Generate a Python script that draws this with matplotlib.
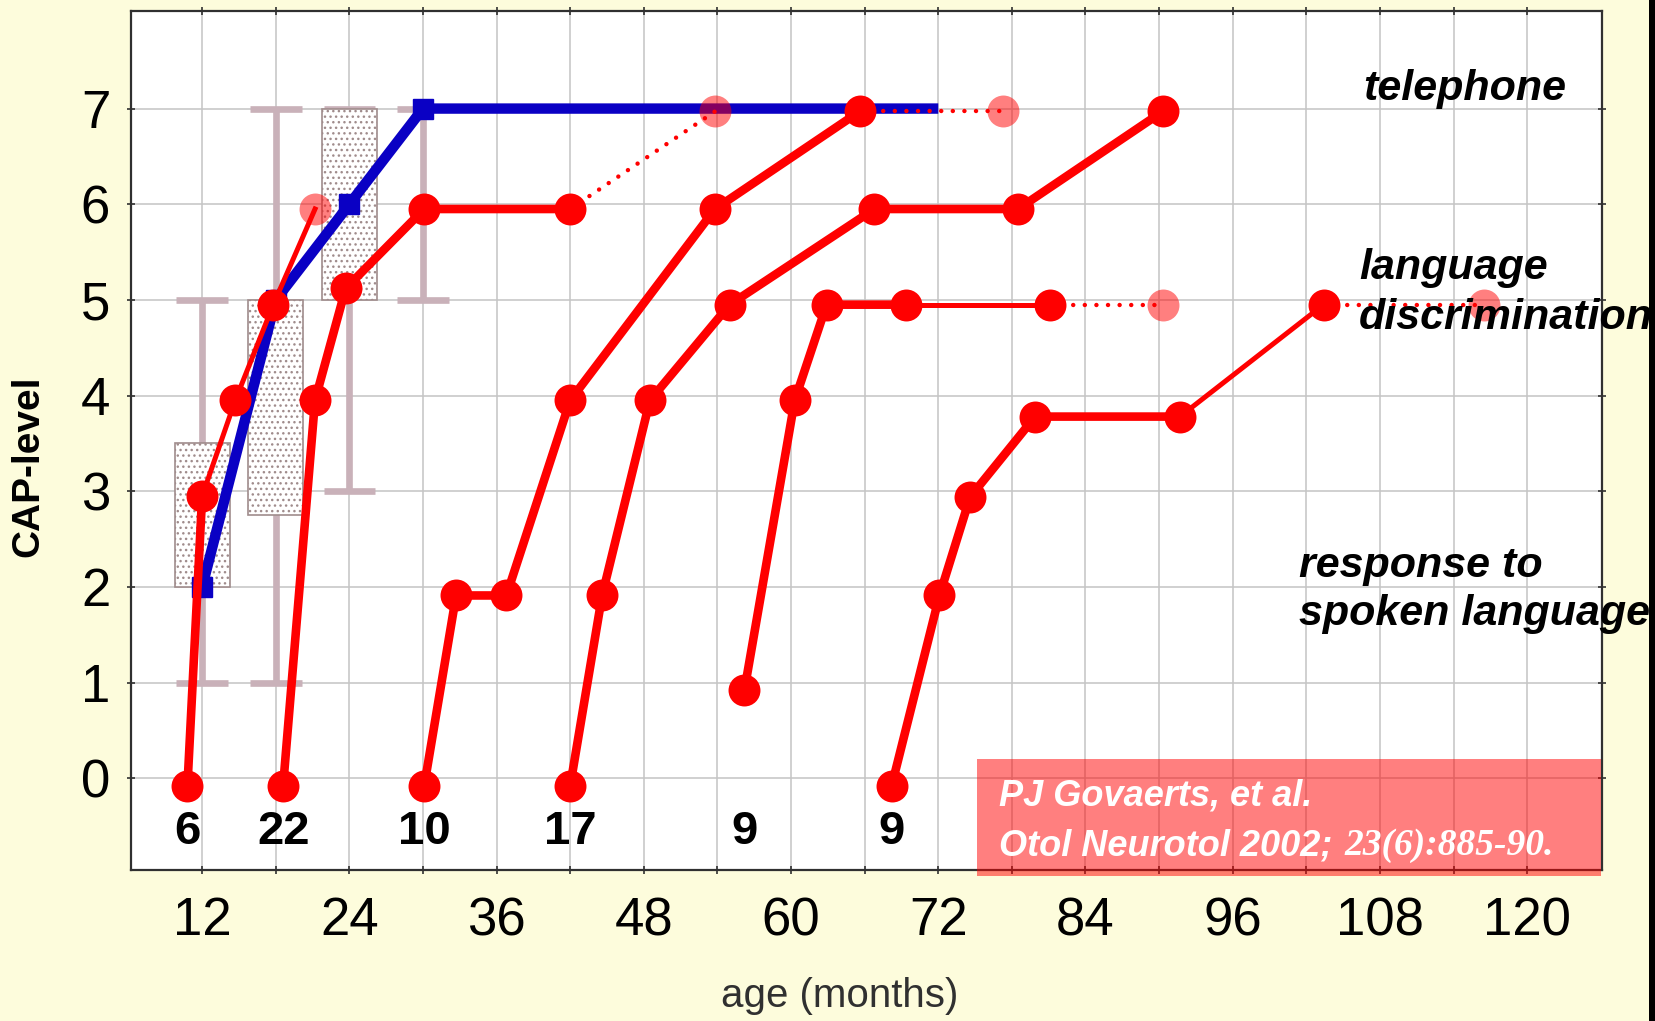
import numpy as np
import matplotlib.pyplot as plt
from matplotlib.patches import Rectangle

plt.rcParams['font.family'] = ['Liberation Sans', 'DejaVu Sans']
plt.rcParams['hatch.color'] = '#8a8080'
plt.rcParams['hatch.linewidth'] = 1.0

# box summary per age group (months) of the CAP level
box_age = [12, 18, 24, 30]
box_lo = [1, 1, 3, 5]
box_q1 = [2.0, 2.75, 5.0, 7.0]
box_q3 = [3.5, 5.0, 7.0, 7.0]
box_hi = [5, 7, 7, 7]

# median course
med_age = [12, 18, 24, 30, 72]
med_cap = [2, 5, 6, 7, 7]

# groups by age at implantation: ages and CAP levels
grp_n = [6, 22, 10, 17, 9, 9]
grp_age = [
    [10.8, 12.0, 14.7, 17.8],
    [18.6, 21.2, 23.7, 30.1, 42.0],
    [30.1, 32.7, 36.8, 42.0, 53.8, 65.6],
    [42.0, 44.6, 48.5, 55.0, 66.8, 78.5, 90.3],
    [56.2, 60.3, 62.9, 69.4, 81.1],
    [68.2, 72.1, 74.6, 79.9, 91.7, 103.4],
]
grp_cap = [
    [-0.08, 2.95, 3.95, 4.95],
    [-0.08, 3.95, 5.12, 5.95, 5.95],
    [-0.08, 1.91, 1.91, 3.95, 5.95, 6.97],
    [-0.08, 1.91, 3.95, 4.95, 5.95, 5.95, 6.97],
    [0.92, 3.95, 4.95, 4.95, 4.95],
    [-0.08, 1.91, 2.94, 3.78, 3.78, 4.95],
]
# segment index from which the line gets thin (None = thick throughout)
grp_thin = [1, None, None, None, 3, 4]
# extrapolated last point (age, cap, link style)
grp_next = [(21.2, 5.95, '-'), (53.8, 6.97, ':'), (77.3, 6.97, ':'),
            None, (90.3, 4.95, ':'), (116.5, 4.95, ':')]

levels = [('telephone', 106.6, 7.09),
          ('language', 106.3, 5.22),
          ('discrimination', 106.3, 4.70),
          ('response to', 101.4, 2.10),
          ('spoken language', 101.4, 1.60)]

W, H = 1656, 1021
fig = plt.figure(figsize=(W / 100, H / 100), dpi=100, facecolor='#fdfcdc')
ax = fig.add_axes([131 / W, 1 - 870 / H, (1602 - 131) / W, (870 - 11) / H])
ax.set_facecolor('white')
ax.set_xlim(6.2, 126.1)
ax.set_ylim(-0.96, 8.02)

ax.set_xticks(np.arange(12, 121, 12))
ax.set_xticks(np.arange(18, 120, 12), minor=True)
ax.set_yticks(range(0, 8))
ax.grid(True, which='both', color='#c4c4c4', lw=1.1, zorder=0)
ax.set_axisbelow(True)
ax.tick_params(which='both', direction='inout', length=6, width=1.2, color='#303030',
               top=True, right=True, labelsize=38, pad=12)
ax.tick_params(axis='x', pad=16)
for s in ax.spines.values():
    s.set_color('#303030')
    s.set_linewidth(1.6)

# whiskers and dotted boxes
bw, cw = 4.5, 4.2
wcol = '#c9b1b9'
for a, lo, q1, q3, hi in zip(box_age, box_lo, box_q1, box_q3, box_hi):
    ax.plot([a, a], [lo, hi], color=wcol, lw=4.8, zorder=1.5, solid_capstyle='butt')
    for v in (lo, hi):
        ax.plot([a - cw / 2, a + cw / 2], [v, v], color=wcol, lw=4.8, zorder=1.5,
                solid_capstyle='butt')
    if q3 > q1:
        ax.add_patch(Rectangle((a - bw / 2, q1), bw, q3 - q1, facecolor='white',
                               edgecolor='#a08c8c', hatch='...', lw=1.2, zorder=2))

# median line
blue = '#0a00c4'
ax.plot(med_age, med_cap, color=blue, lw=7.5, zorder=3, solid_capstyle='butt')
ax.plot(med_age[:4], med_cap[:4], 's', color=blue, ms=15, zorder=3)

# group curves
red = '#ff0000'
for age, cap, thin, nxt, n in zip(grp_age, grp_cap, grp_thin, grp_next, grp_n):
    k = len(age) - 1 if thin is None else thin
    ax.plot(age[:k + 1], cap[:k + 1], color=red, lw=6.2, zorder=4, solid_capstyle='round')
    if thin is not None:
        ax.plot(age[k:], cap[k:], color=red, lw=3.6, zorder=4, solid_capstyle='round')
    if nxt is not None:
        nx, ny, ls = nxt
        if ls == '-':
            ax.plot([age[-1], nx], [cap[-1], ny], color=red, lw=3.6, zorder=4)
        else:
            ax.plot([age[-1], nx], [cap[-1], ny], color=red, lw=3.2,
                    linestyle=(0, (0.01, 2.6)), dash_capstyle='round', zorder=4)
        ax.plot(nx, ny, 'o', color=red, alpha=0.5, ms=23, mew=0, zorder=6)
    ax.plot(age, cap, 'o', color=red, ms=23, mew=0, zorder=5)
    ax.text(age[0], -0.56, str(n), ha='center', va='center', fontsize=34,
            fontweight='bold', zorder=7)

for txt, x, y in levels:
    ax.text(x, y, txt, fontsize=31, fontweight='bold', fontstyle='italic',
            va='baseline', ha='left', clip_on=False, zorder=7)

fig.text(28 / W, 1 - 466 / H, 'CAP-level', rotation=90, ha='center', va='center',
         fontsize=28, fontweight='bold')
fig.text(840 / W, 1 - 996 / H, 'age (months)', ha='center', va='center',
         fontsize=29, color='#303030')

# citation box
fig.add_artist(Rectangle((977 / W, 1 - 876 / H), 624 / W, 117 / H,
                         transform=fig.transFigure, facecolor=red, alpha=0.5,
                         lw=0, zorder=10))
fig.text(999 / W, 1 - 805 / H, 'PJ Govaerts, et al.', color='white', fontsize=26,
         fontweight='bold', fontstyle='italic', va='baseline', zorder=11)
t2 = fig.text(999 / W, 1 - 855 / H, 'Otol Neurotol 2002;', color='white', fontsize=26,
              fontweight='bold', fontstyle='italic', va='baseline', zorder=11)
fig.canvas.draw()
bb = t2.get_window_extent()
fig.text((bb.x1 + 12) / W, 1 - 855 / H, '23(6):885-90.', color='white', fontsize=27,
         family=['Liberation Serif', 'DejaVu Serif'], fontstyle='italic',
         fontweight='bold', va='baseline', zorder=11)

# dark strip on the right edge
fig.add_artist(Rectangle((1649 / W, 0), 7 / W, 1, transform=fig.transFigure,
                         facecolor='black', lw=0, zorder=12))

fig.savefig('out.png', dpi=100, facecolor=fig.get_facecolor())
